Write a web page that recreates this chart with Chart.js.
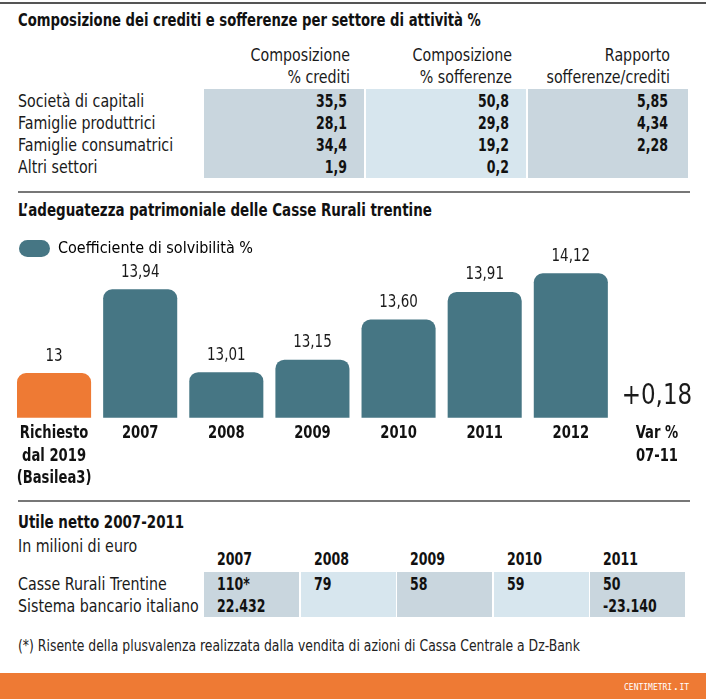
<!DOCTYPE html>
<html>
<head>
<meta charset="utf-8">
<script src="https://cdn.jsdelivr.net/npm/chart.js@4"></script>
<style>
  body { margin: 0; background: #fff; }
  #page { position: relative; width: 706px; height: 699px; overflow: hidden; font-family: "DejaVu Sans Condensed", "Liberation Sans", Arial, sans-serif; color: #1a1a1a; }
  .abs { position: absolute; white-space: nowrap; }
  .title { font-weight: bold; font-size: 18px; color: #111; transform: scaleX(0.83); transform-origin: 0 0; }
  .txt { font-size: 17px; line-height: 22px; transform: scaleX(0.93); transform-origin: 0 0; }
  .r { transform-origin: 100% 0; }
  .b { font-weight: bold; color: #111; transform: scaleX(0.82); }
  .rule { position: absolute; height: 2px; background: #777; }
  .cell { position: absolute; }
</style>
</head>
<body>
<div id="page">
  <div class="rule" style="left:0;top:2px;width:706px;background:#555;"></div>
  <div class="abs title" style="left:18px;top:9px;transform:scaleX(0.815);">Composizione dei crediti e sofferenze per settore di attività %</div>
  <div id="t1"></div>

  <div class="rule" style="left:18px;top:191px;width:672px;"></div>
  <div class="abs title" style="left:18px;top:199px;">L’adeguatezza patrimoniale delle Casse Rurali trentine</div>
  <canvas id="myChart" width="706" height="269" style="position:absolute;left:0;top:232px;"></canvas>

  <div class="rule" style="left:18px;top:500px;width:672px;"></div>
  <div class="abs title" style="left:18px;top:511px;">Utile netto 2007-2011</div>
  <div class="abs txt" style="left:18px;top:535px;">In milioni di euro</div>
  <div id="t2"></div>
  <div class="abs txt" style="left:18px;top:635px;font-size:15px;color:#222;transform:scaleX(0.92);">(*) Risente della plusvalenza realizzata dalla vendita di azioni di Cassa Centrale a Dz-Bank</div>

  <div class="abs" style="left:0;top:673px;width:706px;height:26px;background:#ee7a34;"></div>
  <div class="abs" style="left:624px;top:679px;font-family:'DejaVu Sans Mono',monospace;font-size:12px;color:#fff;font-variant:small-caps;">centimetri.it</div>
</div>

<script>
// Composizione dei crediti e sofferenze
const settori = ['Società di capitali', 'Famiglie produttrici', 'Famiglie consumatrici', 'Altri settori'];
const compCrediti = [35.5, 28.1, 34.4, 1.9];
const compSofferenze = [50.8, 29.8, 19.2, 0.2];
const rapporto = [5.85, 4.34, 2.28, null];
const intestazioni = [['Composizione', '% crediti'], ['Composizione', '% sofferenze'], ['Rapporto', 'sofferenze/crediti']];

// Coefficiente di solvibilità %
const categorie = [['Richiesto', 'dal 2019', '(Basilea3)'], '2007', '2008', '2009', '2010', '2011', '2012', ['Var %', '07-11']];
const solvibilita = [13, 13.94, 13.01, 13.15, 13.60, 13.91, 14.12, null];
const varPerc = '+0,18';

// Utile netto
const anni = ['2007', '2008', '2009', '2010', '2011'];
const casseRurali = ['110*', '79', '58', '59', '50'];
const sistemaBancario = ['22.432', '', '', '', '-23.140'];

const FONT = '"DejaVu Sans Condensed", "Liberation Sans", Arial, sans-serif';
const TEAL = '#467684';
const ORANGE = '#ee7a34';
const DARK = '#c9d6de';
const LIGHT = '#d7e6ee';

const fmt = (v, d) => v == null ? '' : v.toFixed(d).replace('.', ',');

// tabella 1
const t1 = document.getElementById('t1');
let html = '';
const cols = [204, 366, 528];
const headW = [146, 146, 142];
const valW = [143, 143, 140];
cols.forEach((x, i) => {
  html += `<div class="cell" style="left:${x}px;top:89px;width:160px;height:89px;background:${i === 1 ? LIGHT : DARK}"></div>`;
  html += `<div class="abs txt r" style="left:${x}px;top:44px;width:${headW[i]}px;text-align:right;">${intestazioni[i][0]}<br>${intestazioni[i][1]}</div>`;
});
settori.forEach((s, r) => {
  const top = 90 + r * 22;
  html += `<div class="abs txt" style="left:18px;top:${top}px;">${s}</div>`;
  const vals = [fmt(compCrediti[r], 1), fmt(compSofferenze[r], 1), fmt(rapporto[r], 2)];
  vals.forEach((v, i) => {
    html += `<div class="abs txt b r" style="left:${cols[i]}px;top:${top}px;width:${valW[i]}px;text-align:right;">${v}</div>`;
  });
});
t1.innerHTML = html;

// tabella 2
const t2 = document.getElementById('t2');
html = '';
const cols2 = [204, 301, 397, 494, 590];
anni.forEach((a, i) => {
  const x = cols2[i];
  html += `<div class="cell" style="left:${x}px;top:572px;width:95px;height:45px;background:${i % 2 ? LIGHT : DARK}"></div>`;
  html += `<div class="abs txt b" style="left:${x + 13}px;top:548px;">${a}</div>`;
  html += `<div class="abs txt b" style="left:${x + 13}px;top:573px;">${casseRurali[i]}</div>`;
  html += `<div class="abs txt b" style="left:${x + 13}px;top:595px;">${sistemaBancario[i]}</div>`;
});
html += `<div class="abs txt" style="left:18px;top:573px;">Casse Rurali Trentine</div>`;
html += `<div class="abs txt" style="left:18px;top:595px;">Sistema bancario italiano</div>`;
t2.innerHTML = html;

// testo stretto sul canvas
const narrowText = (ctx, text, x, y, k) => {
  ctx.save();
  ctx.translate(x, y);
  ctx.scale(k, 1);
  ctx.fillText(text, 0, 0);
  ctx.restore();
};

// etichette sopra le barre, etichette asse x e variazione
const valueLabels = {
  id: 'valueLabels',
  afterDraw(chart) {
    const { ctx } = chart;
    const meta = chart.getDatasetMeta(0);
    const xs = chart.scales.x;
    const bottom = chart.chartArea.bottom;
    ctx.save();
    ctx.fillStyle = '#1a1a1a';
    ctx.textAlign = 'center';
    ctx.textBaseline = 'middle';
    ctx.font = '17px ' + FONT;
    meta.data.forEach((bar, i) => {
      const v = solvibilita[i];
      if (v == null) return;
      const t = Number.isInteger(v) ? String(v) : fmt(v, 2);
      narrowText(ctx, t, bar.x, bar.y - 17, 0.88);
    });
    ctx.fillStyle = '#111';
    ctx.font = 'bold 17px ' + FONT;
    categorie.forEach((lab, i) => {
      [].concat(lab).forEach((line, j) => {
        narrowText(ctx, line, xs.getPixelForTick(i), bottom + 16 + j * 22.5, 0.86);
      });
    });
    ctx.fillStyle = '#1a1a1a';
    ctx.font = '29px ' + FONT;
    narrowText(ctx, varPerc, xs.getPixelForValue(categorie.length - 1), bottom - 21, 0.88);
    ctx.restore();
  }
};

const ctx = document.getElementById('myChart');
new Chart(ctx, {
  type: 'bar',
  data: {
    labels: categorie,
    datasets: [
      {
        label: 'Coefficiente di solvibilità %',
        data: solvibilita,
        backgroundColor: solvibilita.map((v, i) => (i === 0 ? ORANGE : TEAL)),
        borderRadius: 9,
        borderSkipped: false,
        barPercentage: 0.86,
        categoryPercentage: 1,
      },
    ],
  },
  options: {
    responsive: false,
    animation: false,
    layout: { padding: { left: 11, right: 6, top: 0, bottom: 0 } },
    scales: {
      x: {
        grid: { display: false },
        border: { display: false },
        ticks: { autoSkip: false, maxRotation: 0, padding: 4, color: 'rgba(0,0,0,0)', font: { family: FONT, size: 17, weight: 'bold', lineHeight: 1.32 } },
      },
      y: { display: false, min: 12.5, max: 14.19 },
    },
    plugins: {
      tooltip: { enabled: false },
      legend: {
        position: 'top',
        align: 'start',
        labels: {
          boxWidth: 31,
          boxHeight: 17,
          useBorderRadius: true,
          borderRadius: 8.5,
          padding: 8,
          color: '#222',
          font: { family: FONT, size: 16 },
          generateLabels: (chart) => [{ text: chart.data.datasets[0].label, fillStyle: TEAL, strokeStyle: TEAL, lineWidth: 0, borderRadius: 8.5, datasetIndex: 0 }],
        },
      },
    },
  },
  plugins: [valueLabels],
});
</script>
</body>
</html>
